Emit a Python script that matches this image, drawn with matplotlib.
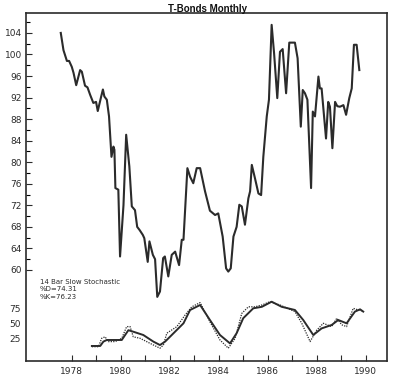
import matplotlib.pyplot as plt
from matplotlib.ticker import FixedLocator

# T-Bond monthly closes (decimal year, price)
price_years = [1977.55, 1977.66, 1977.80, 1977.89, 1978.00, 1978.07, 1978.18, 1978.34,
               1978.41, 1978.54, 1978.64, 1978.75, 1978.88, 1978.99, 1979.06, 1979.20,
               1979.27, 1979.33, 1979.43, 1979.52, 1979.62, 1979.70, 1979.74, 1979.78,
               1979.90, 1979.97, 1980.11, 1980.22, 1980.35, 1980.45, 1980.58, 1980.67,
               1980.77, 1980.90, 1980.96, 1981.10, 1981.17, 1981.31, 1981.40, 1981.49,
               1981.60, 1981.73, 1981.80, 1981.94, 1982.08, 1982.22, 1982.38, 1982.49,
               1982.56, 1982.72, 1982.83, 1982.96, 1983.10, 1983.24, 1983.44, 1983.64,
               1983.85, 1983.98, 1984.16, 1984.30, 1984.39, 1984.49, 1984.60, 1984.73,
               1984.84, 1984.94, 1985.07, 1985.21, 1985.28, 1985.35, 1985.48, 1985.62,
               1985.73, 1985.82, 1985.96, 1986.05, 1986.16, 1986.26, 1986.39, 1986.50,
               1986.61, 1986.75, 1986.88, 1987.11, 1987.22, 1987.35, 1987.43, 1987.52,
               1987.62, 1987.77, 1987.84, 1987.93, 1988.07, 1988.13, 1988.20, 1988.38,
               1988.47, 1988.54, 1988.64, 1988.75, 1988.84, 1988.95, 1989.09, 1989.20,
               1989.33, 1989.43, 1989.52, 1989.63, 1989.74]
price = [104.0, 100.8, 98.8, 98.8, 97.7, 96.6, 94.3, 97.1,
         96.8, 94.2, 93.9, 92.5, 91.0, 91.2, 89.5, 92.2,
         93.5, 92.2, 91.6, 88.5, 81.0, 82.9, 82.3, 75.2,
         74.9, 62.5, 72.0, 85.1, 79.2, 71.8, 71.1, 68.0,
         67.4, 66.5, 65.9, 61.5, 65.3, 62.8, 62.0, 55.0,
         56.0, 62.2, 62.5, 58.8, 62.8, 63.4, 60.9, 65.6,
         65.6, 78.9, 77.3, 76.1, 78.9, 78.9, 74.6, 71.0,
         70.2, 70.5, 66.2, 60.3, 59.7, 60.3, 66.2, 68.0,
         72.1, 71.8, 68.4, 73.3, 74.6, 79.5, 77.0, 74.2,
         73.9, 81.0, 88.5, 91.6, 105.5, 100.2, 91.9, 100.5,
         101.0, 92.8, 102.2, 102.2, 99.3, 86.6, 93.4, 92.8,
         91.6, 75.2, 89.4, 88.5, 95.9, 93.7, 93.7, 84.4,
         91.2, 90.3, 82.6, 91.2, 90.4, 90.3, 90.6, 88.8,
         91.9, 93.7, 101.8, 101.8, 97.1]

# 14 bar slow stochastic
d_years = [1978.82, 1979.16, 1979.29, 1979.43, 1979.70, 1980.04, 1980.31, 1980.51,
           1980.92, 1981.33, 1981.60, 1981.81, 1982.15, 1982.56, 1982.83, 1983.24,
           1983.64, 1984.05, 1984.46, 1984.73, 1985.00, 1985.41, 1985.76, 1986.16,
           1986.57, 1987.11, 1987.45, 1987.86, 1988.20, 1988.61, 1988.88, 1989.22,
           1989.56, 1989.77, 1989.90]
pct_d = [11.7, 11.7, 19.0, 21.7, 21.7, 21.7, 38.0, 35.5,
         30.0, 19.0, 13.3, 19.0, 32.8, 49.5, 71.7, 80.0,
         55.0, 30.0, 16.0, 33.0, 58.0, 74.5, 77.0, 85.5,
         77.0, 71.7, 55.0, 30.0, 41.0, 46.7, 55.0, 49.5,
         69.0, 72.8, 69.0]
k_years = [1978.82, 1979.09, 1979.22, 1979.36, 1979.49, 1979.77, 1980.04, 1980.24,
           1980.38, 1980.51, 1980.79, 1981.20, 1981.60, 1981.74, 1981.88, 1982.29,
           1982.62, 1982.90, 1983.24, 1983.64, 1984.05, 1984.39, 1984.67, 1984.94,
           1985.21, 1985.48, 1985.76, 1986.09, 1986.50, 1987.11, 1987.39, 1987.73,
           1988.00, 1988.27, 1988.61, 1988.82, 1989.02, 1989.22, 1989.49, 1989.70,
           1989.90]
pct_k = [10.5, 10.5, 24.5, 27.0, 19.0, 19.0, 24.5, 44.0,
         44.0, 27.0, 24.5, 16.0, 8.0, 13.3, 33.0, 44.0,
         63.0, 77.0, 84.0, 52.0, 21.7, 8.0, 24.5, 66.0,
         77.0, 77.0, 80.0, 85.5, 80.0, 69.0, 49.5, 19.0,
         38.0, 49.5, 44.0, 58.0, 47.0, 44.0, 74.5, 71.7,
         70.0]

year_ticks = list(range(1978, 1991))
year_labels = [str(y) if y % 2 == 0 else "" for y in year_ticks]
price_ticks = list(range(60, 105, 4))
stoch_ticks = [25, 50, 75]

ink = "#2b2b2b"
fig = plt.figure(figsize=(4.0, 3.81), dpi=100)
ax = fig.add_axes([0.065, 0.0525, 0.9025, 0.9134])
ax.plot(price_years, price, color=ink, lw=1.5)
ax.set_xlim(1976.13, 1990.87)
ax.set_ylim(43.1, 107.7)
ax.yaxis.set_major_locator(FixedLocator(price_ticks))
ax.yaxis.set_minor_locator(FixedLocator(list(range(62, 107, 4))))
ax.set_xticks(year_ticks)
ax.set_xticklabels(year_labels)
ax.tick_params(axis="both", direction="in", labelsize=6.5, colors=ink, length=4, width=0.8, pad=3)
ax.tick_params(axis="y", which="minor", direction="in", length=3, width=0.8)
ax.tick_params(axis="x", pad=4)
ax.tick_params(top=False, right=False)
for s in ax.spines.values():
    s.set_linewidth(1.2)
    s.set_color(ink)

# stochastic panel shares the frame of the price chart
sx = fig.add_axes([0.065, 0.0525, 0.9025, 0.2047], sharex=ax)
sx.patch.set_alpha(0)
sx.plot(k_years, pct_k, color=ink, lw=0.9, ls=(0, (1, 1)))
sx.plot(d_years, pct_d, color=ink, lw=1.4)
sx.set_ylim(-13.33, 116.67)
sx.set_yticks(stoch_ticks)
sx.set_yticklabels([str(v) for v in stoch_ticks])
sx.tick_params(axis="y", length=0, labelsize=6.5, colors=ink, pad=4)
sx.tick_params(axis="x", bottom=False, labelbottom=False)
for s in sx.spines.values():
    s.set_visible(False)

ax.text(0.038, 0.237, "14 Bar Slow Stochastic\n%D=74.31\n%K=76.23", transform=ax.transAxes,
        fontsize=5, color=ink, va="top", ha="left", linespacing=1.35)
fig.text(0.52, 0.99, "T-Bonds Monthly", ha="center", va="top", fontsize=7,
         fontweight="bold", family="Liberation Sans", color="#111111")

fig.savefig("out.png", dpi=100)
